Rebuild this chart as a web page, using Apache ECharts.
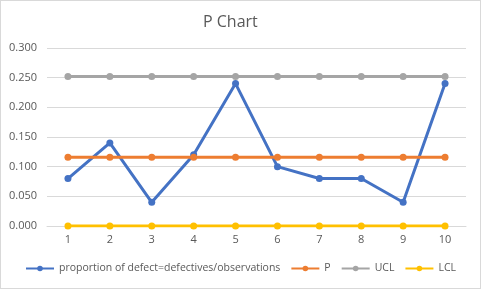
<!DOCTYPE html>
<html>
<head>
<meta charset="utf-8">
<script src="https://cdn.jsdelivr.net/npm/echarts@6/dist/echarts.min.js"></script>
<style>
  html, body { margin: 0; padding: 0; background: #fff; }
  #chart { width: 479px; height: 287px; border: 1px solid #d9d9d9; }
</style>
</head>
<body>
<div id="chart"></div>
<script>
// sample numbers 1..10
const samples = ["1", "2", "3", "4", "5", "6", "7", "8", "9", "10"];
// proportion defective per sample
const proportion = [0.08, 0.14, 0.04, 0.12, 0.24, 0.10, 0.08, 0.08, 0.04, 0.24];
const pBar = [0.116, 0.116, 0.116, 0.116, 0.116, 0.116, 0.116, 0.116, 0.116, 0.116];
const ucl = [0.252, 0.252, 0.252, 0.252, 0.252, 0.252, 0.252, 0.252, 0.252, 0.252];
const lcl = [0, 0, 0, 0, 0, 0, 0, 0, 0, 0];
const seriesNames = ["proportion of defect=defectives/observations", "P", "UCL", "LCL"];
const colors = ["#4472C4", "#ED7D31", "#A5A5A5", "#FFC000"];

const font = "Open Sans, Liberation Sans, sans-serif";
const myChart = echarts.init(document.getElementById("chart"));

const lineSeries = (name, data, color) => ({
  name: name,
  type: "line",
  data: data,
  symbol: "circle",
  symbolSize: 7,
  lineStyle: { color: color, width: 3 },
  itemStyle: { color: color },
  animation: false,
});

const option = {
  animation: false,
  textStyle: { fontFamily: font },
  title: {
    text: "P Chart",
    left: 197,
    top: 8,
    textStyle: { color: "#595959", fontSize: 16, fontWeight: "normal", fontFamily: font },
  },
  grid: { left: 46, right: 14, top: 47, bottom: 62 },
  legend: {
    bottom: 9,
    left: "center",
    itemWidth: 28,
    itemHeight: 7,
    itemGap: 10,
    data: seriesNames,
    textStyle: { color: "#595959", fontSize: 10.5, fontFamily: font },
  },
  xAxis: {
    type: "category",
    data: samples,
    axisLine: { lineStyle: { color: "#d9d9d9" } },
    axisTick: { show: false },
    axisLabel: { color: "#595959", fontSize: 11, margin: 8 },
  },
  yAxis: {
    type: "value",
    min: 0,
    max: 0.3,
    interval: 0.05,
    axisLabel: {
      color: "#595959",
      fontSize: 11,
      margin: 10,
      formatter: (v) => v.toFixed(3),
    },
    splitLine: { lineStyle: { color: "#d9d9d9" } },
  },
  series: [
    lineSeries(seriesNames[0], proportion, colors[0]),
    lineSeries(seriesNames[1], pBar, colors[1]),
    lineSeries(seriesNames[2], ucl, colors[2]),
    lineSeries(seriesNames[3], lcl, colors[3]),
  ],
};
myChart.setOption(option);
</script>
</body>
</html>
